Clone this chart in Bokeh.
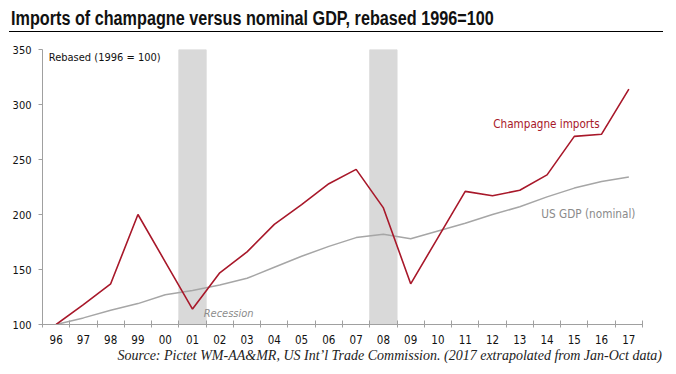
from bokeh.plotting import figure
from bokeh.models import Label, FixedTicker, Div, Range1d
from bokeh.layouts import column
from bokeh.embed import file_html
from bokeh.resources import INLINE

years = list(range(1996, 2018))
tick_labels = ["96", "97", "98", "99", "00", "01", "02", "03", "04", "05", "06",
               "07", "08", "09", "10", "11", "12", "13", "14", "15", "16", "17"]
champagne = [100, 118, 137, 200, 157, 114, 147, 166, 191, 209, 228, 241, 206, 137,
             179, 221, 217, 222, 236, 271, 273, 314]
us_gdp = [100, 106, 113, 119, 127, 131, 136, 142, 152, 162, 171, 179, 182, 178,
          185, 192, 200, 207, 216, 224, 230, 234]
recession_years = [2001, 2008]
y_ticks = [100, 150, 200, 250, 300, 350]

COND = "DejaVu Sans Condensed"

title = Div(
    text="<span style=\"display:inline-block; transform:scaleX(0.81); "
         "transform-origin:0 50%; white-space:nowrap;\">"
         "Imports of champagne versus nominal GDP, rebased 1996=100</span>",
    width=654, height=24, margin=(8, 0, 0, 9),
    styles={"font-family": "'Liberation Sans', Arial, sans-serif", "font-weight": "bold",
            "font-size": "20px", "color": "#111111",
            "border-bottom": "1.5px solid #000000", "padding-left": "2px",
            "line-height": "20px", "box-sizing": "border-box", "overflow": "visible"},
)

p = figure(width=660, height=316, output_backend="svg", toolbar_location=None,
           x_range=Range1d(1995.5, 2017.5), y_range=Range1d(100, 350),
           min_border_left=34, min_border_right=26, min_border_top=17,
           min_border_bottom=24, margin=(0, 0, 0, 8))
p.outline_line_color = None
p.background_fill_color = "white"
p.xgrid.visible = False
p.ygrid.visible = False

p.vbar(x=recession_years, width=1, bottom=100, top=350, color="#D9D9D9")
p.line(years, us_gdp, line_color="#A6A6A6", line_width=1.5)
p.line(years, champagne, line_color="#A8182A", line_width=1.6)

xa = p.xaxis[0]
xa.ticker = FixedTicker(ticks=years, minor_ticks=[y - 0.5 for y in years] + [2017.5])
xa.major_label_overrides = {y: t for y, t in zip(years, tick_labels)}
xa.major_tick_out = 0
xa.major_tick_in = 0
xa.minor_tick_in = 4
xa.minor_tick_out = 3
xa.minor_tick_line_color = "#A0A0A0"
xa.axis_line_color = "#A0A0A0"
xa.major_label_standoff = 7
xa.major_label_text_font = COND
xa.major_label_text_font_size = "11.5px"
xa.major_label_text_color = "#111111"

ya = p.yaxis[0]
ya.ticker = FixedTicker(ticks=y_ticks)
ya.major_tick_out = 4
ya.major_tick_in = 0
ya.minor_tick_line_color = None
ya.major_tick_line_color = "#A0A0A0"
ya.axis_line_color = "#A0A0A0"
ya.major_label_standoff = 7
ya.major_label_text_font = COND
ya.major_label_text_font_size = "11px"
ya.major_label_text_color = "#111111"

def lab(x, y, text, color="#111111", size="11px", style="normal", font=COND,
        align="left", baseline="middle"):
    p.add_layout(Label(x=x, y=y, text=text, text_color=color, text_font_size=size,
                       text_font_style=style, text_font=font, text_align=align,
                       text_baseline=baseline))

lab(1995.73, 342.7, "Rebased (1996 = 100)")
lab(2012.03, 282.7, "Champagne imports", color="#A8182A", size="11.6px")
lab(2013.79, 200.9, "US GDP (nominal)", color="#8A8A8A", size="11.7px")
lab(2001.41, 110.0, "Recession", color="#8C8C8C", size="11px", style="italic")

source = Div(
    text="Source: Pictet WM-AA&amp;MR, US Int\u2019l Trade Commission. "
         "(2017 extrapolated from Jan-Oct data)",
    width=654, height=16, margin=(0, 0, 0, 8),
    styles={"font-family": "'Liberation Serif', serif", "font-style": "italic",
            "font-size": "14px", "color": "#222222", "text-align": "right",
            "line-height": "16px", "white-space": "nowrap"},
)

layout = column(title, p, source, spacing=0)
open("out.html", "w").write(file_html(layout, INLINE))
